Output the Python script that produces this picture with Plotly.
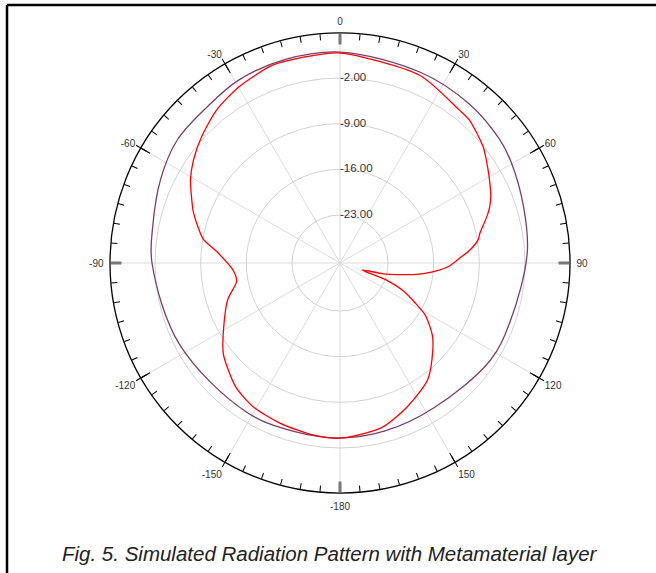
import plotly.graph_objects as go

# ---- data ----
red_theta = [0, 23, 38, 42, 51, 57, 61, 66, 69.4, 72, 78, 80.5, 84.3, 87.6, 92, 95.5, 98, 101,
             104, 107.6, 110, 114, 118, 121.5, 128, 133, 143, 155, 166, 180, 189, 200.6, 211,
             220, 232, 241, 252, 260, 266, 275, 280, 289, 293, 299, 305, 312, 321, 330, 341,
             348, 360]
red_db = [1.83, 0.91, -0.62, -0.78, -2.1, -3.38, -4.15, -5.05, -5.84, -6.6, -8.44, -8.9, -10.34,
          -11.97, -13.8, -16.1, -18.1, -21.0, -23.5, -26.8, -23.0, -19.6, -17.3, -15.0, -12.4,
          -10.9, -8.0, -6.0, -4.3, -3.5, -3.69, -4.15, -4.61, -5.53, -7.67, -9.97, -12.27,
          -14.27, -13.96, -11.51, -9.05, -6.6, -5.68, -4.15, -2.92, -1.70, -0.24, 0.76, 1.67,
          1.67, 1.83]

purple_theta = [0, 23, 39, 52, 59, 73, 87, 109, 123, 147, 165, 180, 195, 212, 243, 270, 281,
                295, 307, 319.5, 331, 345, 360]
purple_db = [1.98, 1.37, 1.06, 0.6, 0.14, -0.93, -1.62, -2.77, -2.92, -3.9, -3.7, -3.54, -3.6,
             -3.38, -2.77, -1.54, -1.11, -0.01, 0.91, 1.06, 1.7, 1.95, 1.98]

radial_ticks = [-23, -16, -9, -2]
radial_range = [-30.36, 4.9]
angle_label_vals = [0, 30, 60, 90, 120, 150, 180, 210, 240, 270, 300, 330]
angle_label_text = ["0", "30", "60", "90", "120", "150", "-180", "-150", "-120", "-90", "-60", "-30"]
cardinal_vals = [0, 90, 180, 270]
major_noncardinal = [30, 60, 120, 150, 210, 240, 300, 330]
minor_tick_vals = list(range(0, 360, 5))
caption = "Fig. 5. Simulated Radiation Pattern with Metamaterial layer"

FONT = "Arial, Liberation Sans, sans-serif"
W, H = 656, 573
cx, cy, R = 340, 263, 230
dom_x = [(cx - R) / W, (cx + R) / W]
dom_y = [(H - cy - R) / H, (H - cy + R) / H]

fig = go.Figure()
fig.add_trace(go.Scatterpolar(r=purple_db, theta=purple_theta, mode="lines",
                              line=dict(color="#7a3e6c", width=1.3, shape="spline", smoothing=1),
                              subplot="polar", showlegend=False, hoverinfo="skip"))
fig.add_trace(go.Scatterpolar(r=red_db, theta=red_theta, mode="lines",
                              line=dict(color="#ff0000", width=1.3, shape="spline", smoothing=0.7),
                              subplot="polar", showlegend=False))
# radial tick labels, placed just right of the 0-degree spoke
fig.add_trace(go.Scatterpolar(r=radial_ticks, theta=[0] * len(radial_ticks), mode="text",
                              text=[f"{v:.2f}" for v in radial_ticks],
                              textposition="middle right",
                              textfont=dict(size=11.5, color="#333333", family=FONT),
                              subplot="polar", showlegend=False, hoverinfo="skip"))
for sp in ["polar2", "polar3", "polar4", "polar5", "polar6"]:
    fig.add_trace(go.Scatterpolar(r=[None], theta=[None], mode="lines", subplot=sp,
                                  showlegend=False))

common_radial_hidden = dict(visible=False, range=radial_range)


def overlay(**ang):
    base = dict(direction="clockwise", rotation=90, showgrid=False, showline=False,
                showticklabels=False)
    base.update(ang)
    return dict(domain=dict(x=dom_x, y=dom_y), bgcolor="rgba(0,0,0,0)",
                radialaxis=common_radial_hidden, angularaxis=base)


fig.update_layout(
    width=W, height=H, autosize=False,
    margin=dict(l=0, r=0, t=0, b=0),
    paper_bgcolor="white",
    font=dict(family=FONT, color="#333333"),
    polar=dict(
        domain=dict(x=dom_x, y=dom_y),
        bgcolor="white",
        radialaxis=dict(range=radial_range, tickvals=radial_ticks, showticklabels=False,
                        angle=90, showline=False, ticks="", gridcolor="#d2d2d2", gridwidth=1),
        angularaxis=dict(direction="clockwise", rotation=90, tickvals=angle_label_vals,
                         ticks="", showticklabels=False, showline=True, linecolor="black",
                         linewidth=1.3, gridcolor="#dcdcdc", gridwidth=1),
    ),
    polar2=overlay(tickvals=minor_tick_vals, ticks="inside", ticklen=6, tickcolor="black",
                   tickwidth=1),
    polar3=overlay(tickvals=major_noncardinal, ticks="outside", ticklen=5, tickcolor="black",
                   tickwidth=1),
    polar4=overlay(tickvals=major_noncardinal, ticks="inside", ticklen=10, tickcolor="black",
                   tickwidth=1),
    polar5=overlay(tickvals=cardinal_vals, ticks="inside", ticklen=11, tickcolor="#777777",
                   tickwidth=2.5),
    polar6=overlay(tickvals=angle_label_vals, ticktext=angle_label_text, ticks="outside",
                   ticklen=4, tickcolor="rgba(0,0,0,0)", showticklabels=True,
                   tickfont=dict(size=10, color="#333333", family=FONT)),
    annotations=[dict(text=caption, xref="paper", yref="paper", x=330 / W, y=20 / H,
                      xanchor="center", yanchor="middle", showarrow=False,
                      font=dict(family=FONT, size=20.5, color="#222222", style="italic"))],
    shapes=[
        dict(type="line", xref="paper", yref="paper", x0=7 / W, x1=1, y0=1 - 5 / H, y1=1 - 5 / H,
             line=dict(color="black", width=2.5)),
        dict(type="line", xref="paper", yref="paper", x0=7 / W, x1=7 / W, y0=0, y1=1 - 5 / H,
             line=dict(color="black", width=2.5)),
    ],
)

fig.write_html("out.html")
